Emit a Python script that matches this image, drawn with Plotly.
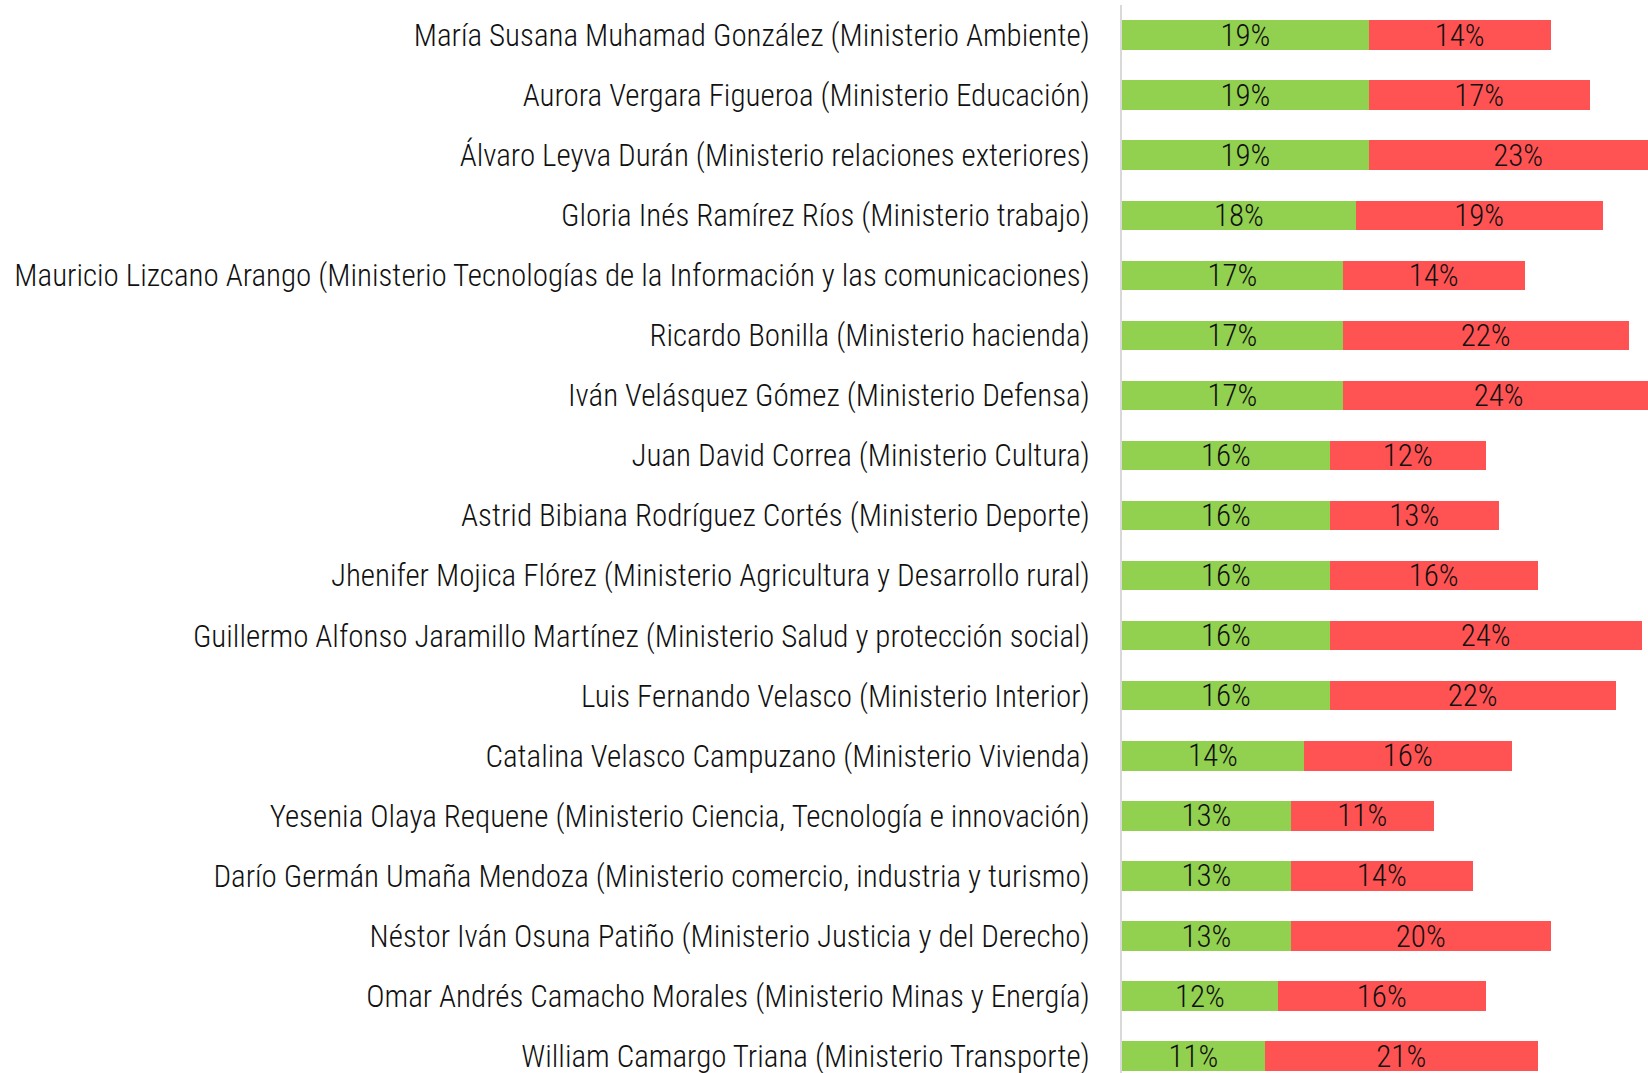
import plotly.graph_objects as go

ministros = [
    "María Susana Muhamad González (Ministerio Ambiente)",
    "Aurora Vergara Figueroa (Ministerio Educación)",
    "Álvaro Leyva Durán (Ministerio relaciones exteriores)",
    "Gloria Inés Ramírez Ríos (Ministerio trabajo)",
    "Mauricio Lizcano Arango (Ministerio Tecnologías de la Información y las comunicaciones)",
    "Ricardo Bonilla (Ministerio hacienda)",
    "Iván Velásquez Gómez (Ministerio Defensa)",
    "Juan David Correa (Ministerio Cultura)",
    "Astrid Bibiana Rodríguez Cortés (Ministerio Deporte)",
    "Jhenifer Mojica Flórez (Ministerio Agricultura y Desarrollo rural)",
    "Guillermo Alfonso Jaramillo Martínez (Ministerio Salud y protección social)",
    "Luis Fernando Velasco (Ministerio Interior)",
    "Catalina Velasco Campuzano (Ministerio Vivienda)",
    "Yesenia Olaya Requene (Ministerio Ciencia, Tecnología e innovación)",
    "Darío Germán Umaña Mendoza (Ministerio comercio, industria y turismo)",
    "Néstor Iván Osuna Patiño (Ministerio Justicia y del Derecho)",
    "Omar Andrés Camacho Morales (Ministerio Minas y Energía)",
    "William Camargo Triana (Ministerio Transporte)",
]
favorable = [19, 19, 19, 18, 17, 17, 17, 16, 16, 16, 16, 16, 14, 13, 13, 13, 12, 11]
desfavorable = [14, 17, 23, 19, 14, 22, 24, 12, 13, 16, 24, 22, 16, 11, 14, 20, 16, 21]

FONT = "Roboto Condensed, Liberation Sans Narrow, Roboto, sans-serif"

fig = go.Figure()
fig.add_trace(go.Bar(
    y=ministros, x=favorable, orientation="h", name="Favorable",
    marker=dict(color="#92D050", line=dict(width=0)),
    width=0.49,
    texttemplate="%{x}%", textposition="inside", insidetextanchor="middle",
    textangle=0, constraintext="none",
    textfont=dict(family=FONT, size=31, color="#111111", weight=300),
    hoverinfo="skip",
))
fig.add_trace(go.Bar(
    y=ministros, x=desfavorable, orientation="h", name="Desfavorable",
    marker=dict(color="#FF5353", line=dict(width=0)),
    width=0.49,
    texttemplate="%{x}%", textposition="inside", insidetextanchor="middle",
    textangle=0, constraintext="none",
    textfont=dict(family=FONT, size=31, color="#111111", weight=300),
    hoverinfo="skip",
))

fig.update_layout(
    barmode="stack",
    width=1648, height=1073,
    margin=dict(l=1122, r=0, t=5, b=0, autoexpand=False),
    paper_bgcolor="white", plot_bgcolor="white",
    showlegend=False,
    font=dict(family=FONT, size=31, color="#111111"),
    uniformtext=dict(mode=False),
)
fig.update_xaxes(
    range=[0, 40.5], showgrid=False, zeroline=False,
    showticklabels=False, showline=False, fixedrange=True,
)
fig.update_yaxes(
    type="category", categoryorder="array", categoryarray=ministros,
    range=[17.28, -0.5],
    showgrid=False, zeroline=False,
    showline=True, linecolor="#d9d9d9", linewidth=2,
    ticks="", ticklabelstandoff=24,
    tickfont=dict(family=FONT, size=31, color="#111111", weight=300),
    automargin=False, fixedrange=True,
)

fig.write_html(
    "out.html",
    config={"displayModeBar": False},
    post_script="document.body.style.margin='0';document.body.style.overflow='hidden';",
)
